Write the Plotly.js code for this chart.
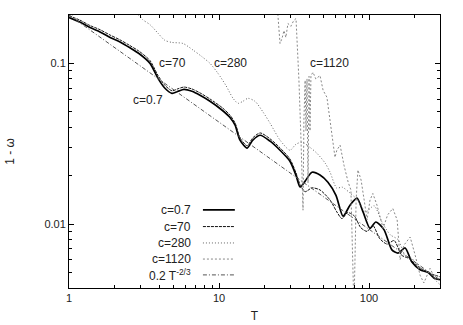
<!DOCTYPE html>
<html>
<head>
<meta charset="utf-8">
<script src="https://cdn.plot.ly/plotly-3.0.1.min.js"></script>
<style>
  html, body { margin: 0; padding: 0; background: #fff; }
  #plot { width: 463px; height: 325px; }
</style>
</head>
<body>
<div id="plot"></div>
<script>
// values (T, 1 - omega)
const t07 = [1, 1.18, 1.38, 1.61, 1.88, 2.19, 2.55, 2.97, 3.47, 3.92, 4.36, 4.86, 5.33, 5.84, 6.6, 7.47, 8.71, 10.5, 11.8, 12.8, 13.8, 15.4, 16.8, 18.8, 21.9, 25.5, 29.7, 32.6, 34.7,
	37.5, 41.7, 47.1, 53.2, 60.2, 67.1, 74.7, 83.1, 91.2, 101.5, 111, 126, 142, 156, 174, 193, 219, 248, 272, 297];
const y07 = [0.193, 0.181, 0.167, 0.157, 0.145, 0.136, 0.125, 0.114, 0.100, 0.0807, 0.0700, 0.0651, 0.0670, 0.0689, 0.0670, 0.0633, 0.0581, 0.0511, 0.0462, 0.0412, 0.0333, 0.0297, 0.0333, 0.0357, 0.0328, 0.0288, 0.0246, 0.0201, 0.0170,
	0.0185, 0.0210, 0.0202, 0.0182, 0.0151, 0.0112, 0.0131, 0.0145, 0.0119, 0.0094, 0.0103, 0.0092, 0.0069, 0.0066, 0.0071, 0.0058, 0.0052, 0.0050, 0.0046, 0.0045];

const t70 = [1, 1.18, 1.38, 1.61, 1.88, 2.19, 2.55, 2.97, 3.47, 3.92, 4.36, 4.86, 5.33, 5.84, 6.6, 7.47, 8.71, 10.5, 11.8, 12.8, 13.8, 15.4, 16.8, 18.8, 21.9, 25.5, 29.7, 32.6, 34.7,
	37.5, 41.7, 47.1, 55, 61, 66, 72, 80, 88, 97, 106, 118, 132, 147, 165, 185, 205, 230, 260, 297];
const y70 = [0.198, 0.186, 0.172, 0.162, 0.150, 0.140, 0.129, 0.118, 0.104, 0.084, 0.073, 0.0675, 0.0695, 0.0712, 0.0693, 0.0655, 0.060, 0.053, 0.0478, 0.0425, 0.0344, 0.0307, 0.0344, 0.0369, 0.0339, 0.0298, 0.0254, 0.0208, 0.0176,
	0.0159, 0.0168, 0.0163, 0.0141, 0.0119, 0.0108, 0.0118, 0.0112, 0.0095, 0.0090, 0.0098, 0.0081, 0.0075, 0.0079, 0.0064, 0.0061, 0.0056, 0.0052, 0.0049, 0.0047];

const t280 = [1, 1.3, 2.0, 2.9, 3.1, 3.47, 3.92, 4.36, 4.86, 5.75, 6.71, 7.7, 8.71, 9.84, 11.1, 12.4, 13.4, 14.4, 15.6, 17.4, 19.7, 21.9, 25.5, 29.7, 32.6, 35.8, 40.4, 44.9, 50.9, 55,
	61, 66, 74.7, 84, 95, 108, 122, 138, 156, 174, 193, 219, 248, 275, 297];
const y280 = [0.196, 0.215, 0.24, 0.2, 0.187, 0.174, 0.154, 0.139, 0.135, 0.133, 0.121, 0.110, 0.100, 0.0867, 0.073, 0.0606, 0.0564, 0.058, 0.0606, 0.058, 0.0496, 0.0424, 0.0333, 0.0288, 0.0314, 0.0323, 0.030, 0.0276, 0.024, 0.021,
	0.0167, 0.017, 0.0156, 0.0141, 0.0119, 0.013, 0.0103, 0.0086, 0.008, 0.0064, 0.0061, 0.0053, 0.005, 0.0045, 0.0042];

const t1120 = [1, 1.2, 10, 24.1, 24.7, 25.5, 26.3, 27.1, 27.9, 28.8, 30.1, 31.5, 32.6, 33.1, 34.1, 35.2, 36.3, 36.8, 37.5, 38.0, 38.6, 39.2, 39.8, 40.4, 41.0, 42.3, 44.2, 47.1, 49.4, 52.4, 55,
	57.6, 59.3, 61, 64.1, 68.1, 72.6, 75.7, 78, 79.3, 80.6, 82, 84.3, 88.5, 92.8, 97, 101.5, 106, 113, 124, 133, 144, 154, 161, 171, 188, 203, 219, 232, 255, 278, 297];
const y1120 = [0.199, 0.23, 0.3, 0.23, 0.199, 0.133, 0.143, 0.160, 0.145, 0.177, 0.170, 0.185, 0.19, 0.149, 0.0784, 0.0333, 0.0122, 0.0443, 0.0784, 0.038, 0.080, 0.018, 0.083, 0.038, 0.084, 0.088, 0.080, 0.084, 0.068, 0.0615, 0.0443,
	0.0333, 0.026, 0.0288, 0.031, 0.0232, 0.0182, 0.0163, 0.006, 0.003, 0.006, 0.0141, 0.0217, 0.0188, 0.0141, 0.0106, 0.0141, 0.0155, 0.0131, 0.0094, 0.0114, 0.0125, 0.0106, 0.006, 0.0074, 0.0083, 0.0064, 0.0048, 0.0043, 0.0053, 0.0045, 0.0046];

// 0.2 T^-2/3 : straight on log-log, two ends
const tRef = [1, 300];
const yRef = [0.2, 0.00446];

const names = ["c=0.7", "c=70", "c=280", "c=1120", "0.2 T<sup>-2/3</sup>"];
const colors = ["#000000", "#111111", "#666666", "#888888", "#555555"];
const widths = [1.7, 1, 1, 1, 1];
const dashes = ["solid", "3px,1px", "1px,2px", "2px,2px", "4px,2px,1px,2px"];
const shapesOf = ["spline", "spline", "spline", "linear", "linear"];

const xs = [t07, t70, t280, t1120, tRef];
const ys = [y07, y70, y280, y1120, yRef];

const data = xs.map((x, i) => ({
	x, y: ys[i], type: 'scatter', mode: 'lines', name: names[i],
	line: {color: colors[i], width: widths[i], dash: dashes[i], shape: shapesOf[i], smoothing: 0.7},
	showlegend: false
}));

// hand-made legend: label on the left, sample on the right
const legRows = [0.286, 0.225, 0.165, 0.106, 0.048];
const annotations = names.map((n, i) => ({
	xref: 'paper', yref: 'paper', x: 0.334, y: legRows[i], xanchor: 'right', yanchor: 'middle',
	text: n, showarrow: false, font: {size: 12, color: '#222'}
}));
const shapes = names.map((n, i) => ({
	type: 'line', xref: 'paper', yref: 'paper', x0: 0.361, x1: 0.447, y0: legRows[i], y1: legRows[i],
	line: {color: colors[i], width: widths[i], dash: dashes[i]}
}));

// curve labels
const labelText = ["c=0.7", "c=70", "c=280", "c=1120"];
const labelX = [0.213, 0.280, 0.434, 0.701];
const labelY = [0.689, 0.824, 0.824, 0.824];
labelText.forEach((t, i) => annotations.push({
	xref: 'paper', yref: 'paper', x: labelX[i], y: labelY[i], xanchor: 'center', yanchor: 'middle',
	text: t, showarrow: false, font: {size: 12, color: '#222'}
}));

const xMinor = [2, 3, 4, 5, 6, 7, 8, 9, 20, 30, 40, 50, 60, 70, 80, 90, 200, 300];
const yMinor = [0.004, 0.005, 0.006, 0.007, 0.008, 0.009, 0.02, 0.03, 0.04, 0.05, 0.06, 0.07, 0.08, 0.09, 0.2];

const layout = {
	width: 463, height: 325,
	margin: {l: 69, r: 23, t: 15, b: 37},
	paper_bgcolor: '#fff', plot_bgcolor: '#fff',
	font: {family: 'Liberation Sans, Arial, sans-serif', size: 11, color: '#222'},
	xaxis: {
		type: 'log', range: [0, 2.473],
		tickvals: [1, 10, 100], ticktext: ['1', '10', '100'],
		ticks: 'inside', ticklen: 5, tickcolor: '#000',
		showline: true, linecolor: '#000', linewidth: 1, mirror: 'ticks',
		showgrid: false, zeroline: false,
		minor: {tickvals: xMinor, ticks: 'inside', ticklen: 3, tickcolor: '#000', showgrid: false},
		title: {text: 'T', font: {size: 12}, standoff: 8}
	},
	yaxis: {
		type: 'log', range: [-2.398, -0.699],
		tickvals: [0.01, 0.1], ticktext: ['0.01', '0.1'],
		ticks: 'inside', ticklen: 5, tickcolor: '#000',
		showline: true, linecolor: '#000', linewidth: 1, mirror: 'ticks',
		showgrid: false, zeroline: false,
		minor: {tickvals: yMinor, ticks: 'inside', ticklen: 3, tickcolor: '#000', showgrid: false},
		title: {text: '1 - ω', font: {size: 12}, standoff: 27}
	},
	annotations, shapes
};

Plotly.newPlot('plot', data, layout, {staticPlot: true});
</script>
</body>
</html>
